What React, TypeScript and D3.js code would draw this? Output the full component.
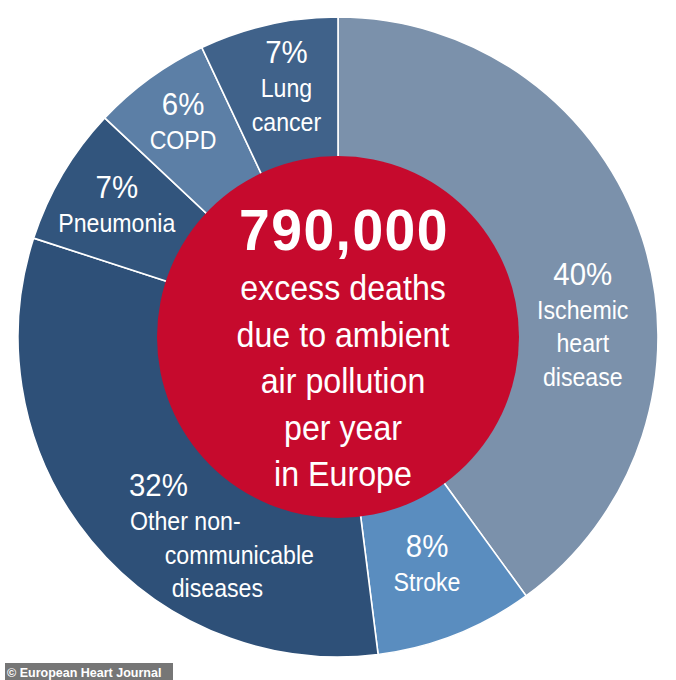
import React, { useEffect, useRef } from "react";
import * as d3 from "d3";

// slices, clockwise from 12 o'clock
const categories = [
  "Ischemic heart disease",
  "Stroke",
  "Other non-communicable diseases",
  "Pneumonia",
  "COPD",
  "Lung cancer",
];
const shares = [40, 8, 32, 7, 6, 7];
const labelLines = [
  ["Ischemic", "heart", "disease"],
  ["Stroke"],
  ["Other non-", "communicable", "diseases"],
  ["Pneumonia"],
  ["COPD"],
  ["Lung", "cancer"],
];
const sliceColors = ["#7b91ab", "#5a8dbf", "#2e5078", "#32557d", "#5c7fa6", "#40628a"];

const headline = "790,000";
const centerLines = ["excess deaths", "due to ambient", "air pollution", "per year", "in Europe"];
const credit = "© European Heart Journal";

// label nudges from the slice centroid (dx, dy of the % line; per-line dx)
const labelNudge: Record<string, { dx: number; dy: number; lineDx?: number[] }> = {
  "Ischemic heart disease": { dx: 7, dy: 25 },
  Stroke: { dx: -3, dy: -12 },
  "Other non-communicable diseases": { dx: 13, dy: 0, lineDx: [40, 94, 72] },
  Pneumonia: { dx: -6, dy: -12 },
  COPD: { dx: -8, dy: -20 },
  "Lung cancer": { dx: 3, dy: -30 },
};

const W = 676;
const H = 680;
const cx = 338;
const cy = 337;
const R = 320;
const redR = 181;
const labelR = 250;
const FONT = "'Liberation Sans', Arial, sans-serif";

const App: React.FC = () => {
  const ref = useRef<SVGSVGElement | null>(null);

  useEffect(() => {
    if (!ref.current) return;
    const svg = d3.select(ref.current);
    svg.selectAll("*").remove();

    const data = categories.map((c, i) => ({ name: c, value: shares[i], lines: labelLines[i], color: sliceColors[i] }));
    const pie = d3
      .pie<(typeof data)[number]>()
      .sort(null)
      .value((d) => d.value)
      .startAngle(0)
      .endAngle(2 * Math.PI);
    const arcs = pie(data);

    const arc = d3.arc<d3.PieArcDatum<(typeof data)[number]>>().innerRadius(0).outerRadius(R);
    const labelArc = d3
      .arc<d3.PieArcDatum<(typeof data)[number]>>()
      .innerRadius(labelR)
      .outerRadius(labelR);

    const g = svg.append("g").attr("transform", `translate(${cx},${cy})`);

    g.selectAll("path.slice")
      .data(arcs)
      .join("path")
      .attr("class", "slice")
      .attr("d", arc)
      .attr("fill", (d) => d.data.color)
      .attr("stroke", "#fff")
      .attr("stroke-width", 1.6);

    // labels
    arcs.forEach((a) => {
      const [lx, ly] = labelArc.centroid(a);
      const n = labelNudge[a.data.name];
      const x0 = lx + n.dx;
      const y0 = ly + n.dy;
      const other = !!n.lineDx;
      const lg = g.append("g").attr("fill", "#fff").attr("font-family", FONT);
      lg.append("text")
        .attr("transform", `translate(${x0},${y0}) scale(0.92,1)`)
        .attr("text-anchor", "middle")
        .attr("font-size", 32)
        .text(`${a.data.value}%`);
      a.data.lines.forEach((t, i) => {
        const ldx = other ? (n.lineDx as number[])[i] - 13 : 0;
        lg.append("text")
          .attr("transform", `translate(${x0 + ldx},${y0 + 34 + i * 33.5}) scale(0.89,1)`)
          .attr("text-anchor", "middle")
          .attr("font-size", 26)
          .text(t);
      });
    });

    // red centre disc
    g.append("circle").attr("r", redR).attr("fill", "#c60a2d");

    const ct = g.append("g").attr("fill", "#fff").attr("font-family", FONT).attr("text-anchor", "middle");
    ct.append("text")
      .attr("transform", `translate(6,${250 - cy}) scale(0.97,1)`)
      .attr("font-size", 57)
      .attr("font-weight", "bold")
      .attr("letter-spacing", 1.5)
      .text(headline);
    centerLines.forEach((t, i) => {
      ct.append("text")
        .attr("transform", `translate(5,${300 - cy + i * 46.5}) scale(0.92,1)`)
        .attr("font-size", 35)
        .text(t);
    });

    // credit tag
    svg.append("rect").attr("x", 5).attr("y", 663).attr("width", 168).attr("height", 17).attr("fill", "#767676");
    svg
      .append("text")
      .attr("x", 7)
      .attr("y", 676.5)
      .attr("fill", "#fff")
      .attr("font-family", FONT)
      .attr("font-weight", "bold")
      .attr("font-size", 12.5)
      .text(credit);
  }, []);

  return (
    <svg
      ref={ref}
      width={W}
      height={H}
      style={{ position: "absolute", left: 0, top: 0, background: "#fff" }}
    />
  );
};

export default App;
